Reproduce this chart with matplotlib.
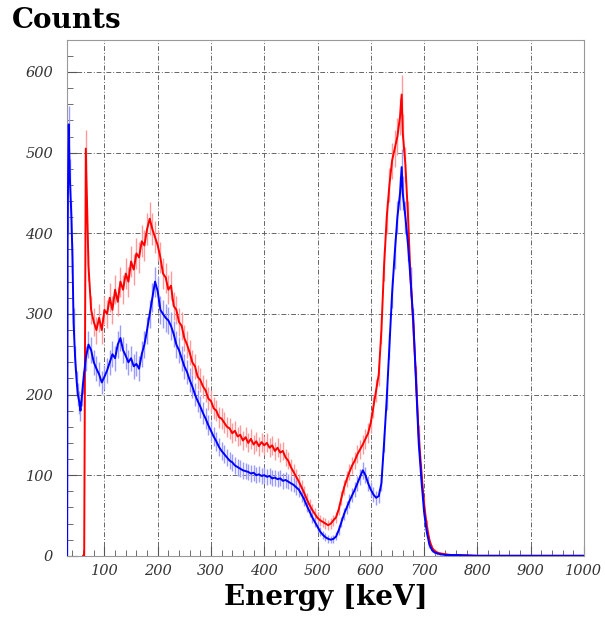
import numpy as np
import matplotlib.pyplot as plt
from matplotlib.ticker import MultipleLocator

# spectrum (energy in keV, counts)
red_e = [60, 62, 65, 70, 75, 80, 85, 90, 95, 100, 105, 110, 115, 120, 125, 130, 135,
         140, 145, 150, 155, 160, 165, 170, 175, 180, 185, 190, 195, 200, 205, 210, 215,
         220, 225, 230, 235, 240, 245, 250, 255, 260, 265, 270, 275, 280, 285, 290, 295,
         300, 305, 310, 315, 320, 325, 330, 335, 340, 345, 350, 355, 360, 365, 370, 375,
         380, 385, 390, 395, 400, 405, 410, 415, 420, 425, 430, 435, 440, 445, 450, 455,
         460, 465, 470, 475, 480, 485, 490, 495, 500, 505, 510, 515, 520, 525, 530, 535,
         540, 545, 550, 555, 560, 565, 570, 575, 580, 585, 590, 595, 600, 605, 610, 615,
         620, 625, 630, 635, 640, 645, 650, 655, 658, 660, 665, 670, 675, 680, 685, 690,
         695, 700, 705, 710, 715, 720, 725, 730, 740, 750, 760, 800, 1000]
red_c = [0, 0, 505, 360, 305, 290, 280, 295, 280, 305, 300, 320, 305, 330, 315, 340, 330,
         350, 340, 365, 355, 375, 370, 390, 385, 405, 418, 405, 395, 385, 370, 350, 345,
         330, 335, 310, 305, 290, 285, 270, 262, 252, 240, 235, 222, 218, 210, 205, 195,
         192, 183, 180, 172, 170, 165, 160, 158, 152, 155, 148, 150, 143, 147, 140, 145,
         138, 142, 136, 141, 137, 140, 134, 137, 130, 134, 128, 130, 122, 118, 110, 104,
         98, 92, 85, 78, 70, 63, 57, 52, 47, 44, 42, 40, 38, 40, 44, 48,
         58, 72, 85, 95, 104, 112, 118, 126, 132, 138, 145, 152, 165, 185, 205, 225,
         280, 360, 420, 460, 490, 505, 520, 545, 572, 525, 485, 420, 340, 285, 220, 150,
         105, 65, 38, 20, 10, 6, 4, 3, 2, 1, 1, 0, 0]

blue_e = [30, 31, 33, 35, 38, 40, 42, 45, 48, 50, 53, 55, 58, 60, 65, 70, 75, 80, 85,
          90, 95, 100, 105, 110, 115, 120, 125, 130, 135, 140, 145, 150, 155, 160, 165,
          170, 175, 180, 185, 190, 195, 200, 205, 210, 215, 220, 225, 230, 235, 240, 245,
          250, 255, 260, 265, 270, 275, 280, 285, 290, 295, 300, 305, 310, 315, 320, 325,
          330, 335, 340, 345, 350, 355, 360, 365, 370, 375, 380, 385, 390, 395, 400, 405,
          410, 415, 420, 425, 430, 435, 440, 445, 450, 455, 460, 465, 470, 475, 480, 485,
          490, 495, 500, 505, 510, 515, 520, 525, 530, 535, 540, 545, 550, 555, 560, 565,
          570, 575, 580, 585, 590, 595, 600, 605, 610, 615, 620, 625, 630, 635, 640, 645,
          650, 655, 658, 660, 665, 670, 675, 680, 685, 690, 695, 700, 705, 710, 715, 720,
          725, 730, 740, 760, 800, 1000]
blue_c = [0, 420, 535, 470, 420, 370, 290, 245, 215, 200, 190, 180, 200, 215, 245, 262,
          255, 240, 232, 225, 215, 222, 230, 240, 250, 245, 262, 270, 255, 248, 240, 245,
          235, 238, 232, 250, 262, 280, 300, 320, 340, 328, 305, 300, 295, 292, 285, 275,
          262, 255, 245, 235, 228, 218, 210, 200, 192, 185, 177, 170, 162, 155, 148, 142,
          135, 130, 126, 122, 118, 116, 112, 110, 108, 106, 105, 104, 102, 103, 100, 101,
          99, 100, 98, 99, 96, 97, 95, 96, 93, 94, 92, 90, 88, 85, 82, 76, 70, 62, 55,
          48, 42, 36, 30, 26, 23, 21, 20, 21, 24, 32, 42, 52, 60, 68, 75, 82, 90, 98, 106,
          100, 90, 82, 76, 72, 74, 90, 140, 195, 260, 325, 375, 420, 450, 482, 450, 420,
          385, 340, 290, 215, 140, 95, 55, 30, 14, 7, 4, 3, 2, 1, 1, 0, 0]

x_ticks = [100, 200, 300, 400, 500, 600, 700, 800, 900, 1000]
y_ticks = [0, 100, 200, 300, 400, 500, 600]

fig = plt.figure(figsize=(6.05, 6.21), dpi=100)
ax = fig.add_axes([0.111, 0.105, 0.854, 0.831])

for e, c, col, light in [(red_e, red_c, '#ff0000', '#ff9a9a'),
                         (blue_e, blue_c, '#0000ff', '#9a9aff')]:
    e = np.array(e)
    c = np.array(c, dtype=float)
    err = np.sqrt(c)
    ax.vlines(e, c - err, c + err, color=light, lw=1.0, zorder=2)
    ax.plot(e, c, color=col, lw=1.4, zorder=3)

ax.set_xlim(30, 1000)
ax.set_ylim(0, 640)
ax.set_xticks(x_ticks)
ax.set_yticks(y_ticks)
ax.xaxis.set_minor_locator(MultipleLocator(20))
ax.yaxis.set_minor_locator(MultipleLocator(20))
ax.tick_params(which='both', direction='in', top=False, right=False,
               colors='#555555', labelcolor='#333333')
ax.tick_params(which='major', length=7)
ax.tick_params(which='minor', length=4)
ax.tick_params(axis='y', which='major', pad=10)
ax.tick_params(axis='x', which='major', pad=6)
for lab in ax.get_xticklabels() + ax.get_yticklabels():
    lab.set_family('DejaVu Serif')
    lab.set_style('italic')
    lab.set_fontsize(10.5)

ax.grid(True, which='major', color='#666666', lw=0.7, linestyle=(0, (5, 2, 1, 2)))
for s in ax.spines.values():
    s.set_color('#999999')

fig.text(0.02, 0.967, 'Counts', family='DejaVu Serif', weight='bold',
         fontsize=20, va='center', ha='left')
ax.set_xlabel('Energy [keV]', family='DejaVu Serif', weight='bold', fontsize=20,
              labelpad=4)

fig.savefig('out.png', dpi=100)
